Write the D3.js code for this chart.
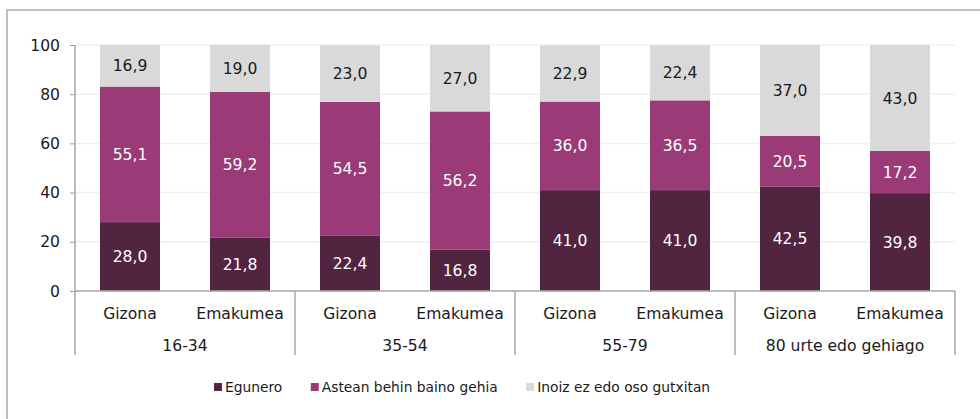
<!DOCTYPE html>
<html>
<head>
<meta charset="utf-8">
<script src="https://cdn.jsdelivr.net/npm/d3@7"></script>
<style>
body { margin: 0; background: #fff; }
svg { font-family: "DejaVu Sans", Verdana, sans-serif; }
</style>
</head>
<body>
<div class="content"></div>
<script>
const w = 980;
const h = 419;

// data
const groups = ['16-34', '35-54', '55-79', '80 urte edo gehiago'];
const subs = ['Gizona', 'Emakumea'];
const seriesNames = ['Egunero', 'Astean behin baino gehia', 'Inoiz ez edo oso gutxitan'];
const egunero = [28.0, 21.8, 22.4, 16.8, 41.0, 41.0, 42.5, 39.8];
const astean = [55.1, 59.2, 54.5, 56.2, 36.0, 36.5, 20.5, 17.2];
const inoiz = [16.9, 19.0, 23.0, 27.0, 22.9, 22.4, 37.0, 43.0];
const yTicks = [0, 20, 40, 60, 80, 100];

const colors = ['#512440', '#9a3b77', '#d9d9d9'];
const labelColors = ['#fff', '#fff', '#1a1a1a'];
const fs = 15.6;

const rows = [];
groups.forEach((g, gi) => {
	subs.forEach((s, si) => {
		const i = gi * 2 + si;
		rows.push({ group: g, sub: s, Egunero: egunero[i], 'Astean behin baino gehia': astean[i], 'Inoiz ez edo oso gutxitan': inoiz[i] });
	});
});

const stack = d3.stack().keys(seriesNames)(rows);

const pLeft = 75, pRight = 955, pTop = 45, pBottom = 291;

const svg = d3.select('.content').append('svg')
	.attr('width', w)
	.attr('height', h);

// frame
svg.append('rect')
	.attr('x', 7).attr('y', 10)
	.attr('width', 990).attr('height', 430)
	.attr('fill', 'none')
	.attr('stroke', '#bfbfbf')
	.attr('stroke-width', 2);

const x0 = d3.scaleBand().domain(groups).range([pLeft, pRight]);
const x1 = d3.scaleBand().domain(subs).range([0, x0.bandwidth()])
	.paddingInner(50 / 110).paddingOuter(25 / 110);
const y = d3.scaleLinear().domain([0, 100]).range([pBottom, pTop]);

// grid
svg.append('g')
	.selectAll('line')
	.data(yTicks.filter((d) => d > 0))
	.enter()
	.append('line')
	.attr('x1', pLeft).attr('x2', pRight)
	.attr('y1', (d) => y(d)).attr('y2', (d) => y(d))
	.attr('stroke', '#f0f0f0')
	.attr('stroke-width', 1.5);

// bars
const layer = svg.selectAll('.layer')
	.data(stack)
	.enter()
	.append('g')
	.attr('class', 'layer');

layer.selectAll('rect')
	.data((d) => d)
	.enter()
	.append('rect')
	.attr('x', (d) => x0(d.data.group) + x1(d.data.sub))
	.attr('y', (d) => y(d[1]))
	.attr('width', x1.bandwidth())
	.attr('height', (d) => y(d[0]) - y(d[1]))
	.attr('fill', function () { return colors[d3.select(this.parentNode).datum().index]; });

layer.selectAll('text')
	.data((d) => d)
	.enter()
	.append('text')
	.attr('x', (d) => x0(d.data.group) + x1(d.data.sub) + x1.bandwidth() / 2)
	.attr('y', (d) => y((d[0] + d[1]) / 2))
	.attr('dy', '0.36em')
	.attr('text-anchor', 'middle')
	.attr('font-size', fs)
	.attr('fill', function () { return labelColors[d3.select(this.parentNode).datum().index]; })
	.text((d) => d3.format('.1f')(d[1] - d[0]).replace('.', ','));

// y axis
const yAxis = d3.axisLeft(y).tickValues(yTicks).tickSize(5).tickPadding(10);
const ya = svg.append('g')
	.attr('transform', 'translate(' + pLeft + ',0)')
	.call(yAxis);
ya.select('.domain').remove();
ya.selectAll('line').attr('stroke', '#999');
ya.selectAll('text').attr('font-size', fs).attr('fill', '#1a1a1a');
ya.attr('font-family', null).attr('font-size', null);

// x axis lines
const lineColor = '#a6a6a6';
svg.append('line')
	.attr('x1', pLeft).attr('x2', pRight)
	.attr('y1', pBottom).attr('y2', pBottom)
	.attr('stroke', lineColor).attr('stroke-width', 1.5);
svg.append('line')
	.attr('x1', pLeft).attr('x2', pLeft)
	.attr('y1', pTop).attr('y2', pBottom)
	.attr('stroke', lineColor).attr('stroke-width', 1.5);

const seps = groups.map((g) => x0(g)).concat([pRight]);
svg.append('g')
	.selectAll('line')
	.data(seps)
	.enter()
	.append('line')
	.attr('x1', (d) => d).attr('x2', (d) => d)
	.attr('y1', pBottom).attr('y2', 355)
	.attr('stroke', lineColor).attr('stroke-width', 1.5);

// sub labels
svg.append('g')
	.selectAll('text')
	.data(rows)
	.enter()
	.append('text')
	.attr('x', (d) => x0(d.group) + x1(d.sub) + x1.bandwidth() / 2)
	.attr('y', 318.5)
	.attr('text-anchor', 'middle')
	.attr('font-size', fs)
	.attr('fill', '#1a1a1a')
	.text((d) => d.sub);

// group labels
svg.append('g')
	.selectAll('text')
	.data(groups)
	.enter()
	.append('text')
	.attr('x', (d) => x0(d) + x0.bandwidth() / 2)
	.attr('y', 350.5)
	.attr('text-anchor', 'middle')
	.attr('font-size', fs)
	.attr('fill', '#1a1a1a')
	.text((d) => d);

// legend
const legend = svg.append('g').attr('id', 'legend');
let lx = 214;
seriesNames.forEach((name, i) => {
	legend.append('rect')
		.attr('x', lx).attr('y', 383)
		.attr('width', 8).attr('height', 8)
		.attr('fill', colors[i]);
	const t = legend.append('text')
		.attr('x', lx + 11).attr('y', 392)
		.attr('font-size', 13.8)
		.attr('fill', '#1a1a1a')
		.text(name);
	lx += 11 + t.node().getComputedTextLength() + 28.5;
});
</script>
</body>
</html>
